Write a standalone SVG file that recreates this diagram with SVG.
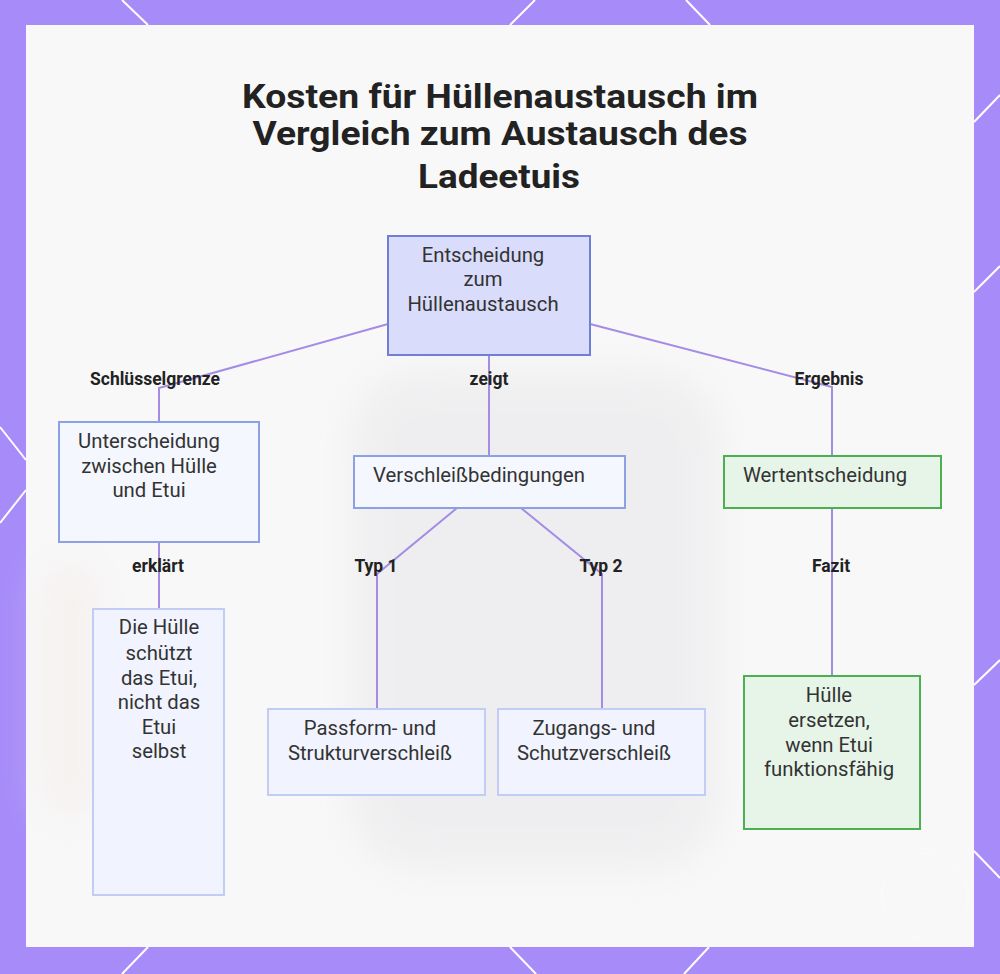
<svg xmlns="http://www.w3.org/2000/svg" width="1000" height="974" viewBox="0 0 1000 974">
<defs>
<style>
.deco{stroke:#ffffff;stroke-width:2;fill:none}
.edge{stroke:#a48ce6;stroke-width:2;fill:none}
.lbl{font-family:Roboto,"Liberation Sans",sans-serif;font-size:17.5px;font-weight:700;fill:#222;text-anchor:middle}
.txt{font-family:Roboto,"Liberation Sans",sans-serif;font-size:20.3px;fill:#333;text-anchor:middle}
.title{font-family:Roboto,"Liberation Sans",sans-serif;font-size:33px;font-weight:700;fill:#222;text-anchor:middle}
.blue{fill:#d9dcfb;stroke:#6f80d4;stroke-width:2}
.lblue{fill:#f5f7fe;stroke:#8ca0e6;stroke-width:2}
.pale{fill:#f1f4fe;stroke:#c3ccf5;stroke-width:2}
.green{fill:#e7f5e9;stroke:#4caf50;stroke-width:2}
</style>
<filter id="blur" x="-30%" y="-30%" width="160%" height="160%"><feGaussianBlur stdDeviation="18"/></filter>
</defs>
<rect x="0" y="0" width="1000" height="974" fill="#a78cf9"/>
<g id="decor">
<line class="deco" x1="122" y1="0" x2="148" y2="25"/>
<line class="deco" x1="535" y1="0" x2="510" y2="25"/>
<line class="deco" x1="686" y1="0" x2="710" y2="25"/>
<line class="deco" x1="148" y1="947" x2="122" y2="974"/>
<line class="deco" x1="510" y1="947" x2="536" y2="974"/>
<line class="deco" x1="709" y1="947" x2="684" y2="974"/>
<line class="deco" x1="1000" y1="95" x2="974" y2="122"/>
<line class="deco" x1="974" y1="292" x2="1000" y2="266"/>
<line class="deco" x1="974" y1="685" x2="1000" y2="660"/>
<line class="deco" x1="974" y1="851" x2="1000" y2="878"/>
<line class="deco" x1="0" y1="427" x2="26" y2="460"/>
<line class="deco" x1="26" y1="490" x2="0" y2="523"/>
</g>
<rect x="26" y="25" width="948" height="922" fill="#f8f8f9"/>
<g id="backdrop" filter="url(#blur)" opacity="0.45">
<rect x="350" y="370" width="370" height="500" rx="70" fill="#e4e4e6"/>
<rect x="40" y="560" width="60" height="260" rx="30" fill="#f3e9e4"/>
</g>
<circle cx="925" cy="896" r="43" fill="none" stroke="#ffffff" stroke-width="1" opacity="0.35"/>
<g id="title">
<text class="title" x="500" y="108" textLength="516" lengthAdjust="spacingAndGlyphs">Kosten für Hüllenaustausch im</text>
<text class="title" x="500" y="145" textLength="495" lengthAdjust="spacingAndGlyphs">Vergleich zum Austausch des</text>
<text class="title" x="499" y="188" textLength="162" lengthAdjust="spacingAndGlyphs">Ladeetuis</text>
</g>
<g id="connectors">
<polyline class="edge" points="388,324 159,388 159,422"/>
<line class="edge" x1="489" y1="355" x2="489" y2="456"/>
<polyline class="edge" points="590,324 832,387 832,456"/>
<line class="edge" x1="159" y1="542" x2="159" y2="609"/>
<polyline class="edge" points="457,508 377,574 377,709"/>
<polyline class="edge" points="521,508 602,574 602,709"/>
<line class="edge" x1="832" y1="508" x2="832" y2="676"/>
<text class="lbl" x="155" y="385">Schlüsselgrenze</text>
<text class="lbl" x="489" y="385">zeigt</text>
<text class="lbl" x="829" y="385">Ergebnis</text>
<text class="lbl" x="158" y="572">erklärt</text>
<text class="lbl" x="376" y="572">Typ 1</text>
<text class="lbl" x="601" y="572">Typ 2</text>
<text class="lbl" x="831" y="572">Fazit</text>
</g>
<g id="n-entscheidung">
<rect class="blue" x="388" y="236" width="202" height="119"/>
<text class="txt" x="483" y="262">Entscheidung</text>
<text class="txt" x="483" y="286">zum</text>
<text class="txt" x="483" y="311">Hüllenaustausch</text>
</g>
<g id="n-unterscheidung">
<rect class="lblue" x="59" y="422" width="200" height="120"/>
<text class="txt" x="149" y="448">Unterscheidung</text>
<text class="txt" x="149" y="473">zwischen Hülle</text>
<text class="txt" x="149" y="497">und Etui</text>
</g>
<g id="n-verschleiss">
<rect class="lblue" x="354" y="456" width="271" height="52"/>
<text class="txt" x="479" y="482">Verschleißbedingungen</text>
</g>
<g id="n-wert">
<rect class="green" x="724" y="456" width="217" height="52"/>
<text class="txt" x="825" y="482">Wertentscheidung</text>
</g>
<g id="n-huelle-schuetzt">
<rect class="pale" x="93" y="609" width="131" height="286"/>
<text class="txt" x="159" y="634">Die Hülle</text>
<text class="txt" x="159" y="660">schützt</text>
<text class="txt" x="159" y="685">das Etui,</text>
<text class="txt" x="159" y="709">nicht das</text>
<text class="txt" x="159" y="734">Etui</text>
<text class="txt" x="159" y="758">selbst</text>
</g>
<g id="n-passform">
<rect class="pale" x="268" y="709" width="217" height="86"/>
<text class="txt" x="370" y="735">Passform- und</text>
<text class="txt" x="370" y="760">Strukturverschleiß</text>
</g>
<g id="n-zugang">
<rect class="pale" x="498" y="709" width="207" height="86"/>
<text class="txt" x="594" y="735">Zugangs- und</text>
<text class="txt" x="594" y="760">Schutzverschleiß</text>
</g>
<g id="n-ersetzen">
<rect class="green" x="744" y="676" width="176" height="153"/>
<text class="txt" x="829" y="702">Hülle</text>
<text class="txt" x="829" y="727">ersetzen,</text>
<text class="txt" x="829" y="752">wenn Etui</text>
<text class="txt" x="829" y="776">funktionsfähig</text>
</g>
</svg>
